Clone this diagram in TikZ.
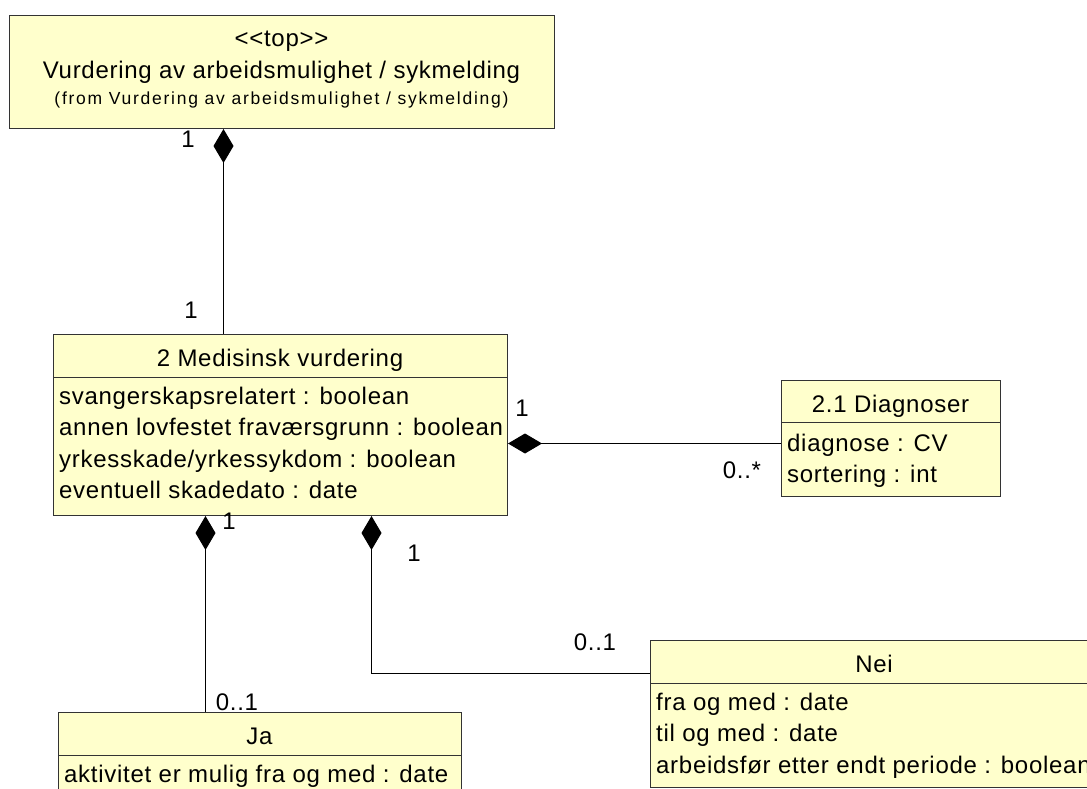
\documentclass[tikz,border=0pt]{standalone}
\usepackage{fontspec}
\usetikzlibrary{arrows.meta}
\newfontfamily\umlfont{Liberation Sans}[LetterSpace=3]
\newfontfamily\umlfromfont{Liberation Sans}[LetterSpace=10]
\definecolor{classfill}{HTML}{FFFFCC}
\definecolor{classline}{HTML}{333333}
\tikzstyle{umlclass}=[draw=classline,fill=classfill,line width=1pt,anchor=north west,inner sep=0pt]
\tikzstyle{lbl}=    [inner sep=0pt,anchor=base,font=\umlfont\fontsize{24}{28}\selectfont]
\tikzstyle{attr}=   [lbl,anchor=base west]
\tikzstyle{comp}=   [{Diamond[length=34pt,width=20pt]}-,line width=1pt,color=black]
\begin{document}
\begin{tikzpicture}[x=1pt,y=-1pt]
 \useasboundingbox (0,0) rectangle (1087,789);
 \fill[white] (0,0) rectangle (1087,789);

 \def\head{43pt}

 \node[umlclass,minimum width=545pt,minimum height=113pt] (top) at (9,15) {};
 \node[umlclass,minimum width=454pt,minimum height=181pt] (med) at (53,334) {};
 \node[umlclass,minimum width=219pt,minimum height=116pt] (diag) at (781,380) {};
 \node[umlclass,minimum width=403pt,minimum height=90pt] (ja) at (58,712) {};
 \node[umlclass,minimum width=448pt,minimum height=147pt] (nei) at (650,640) {};

 \foreach \c in {med,ja,nei}
 {
  \draw[classline,line width=1pt] ([yshift=-\head]\c.north west) -- ([yshift=-\head]\c.north east);
 }
 \draw[classline,line width=1pt] ([yshift=-42pt]diag.north west) -- ([yshift=-42pt]diag.north east);

 \node[lbl] (topstereo) at (281.5,47) {<{}<top>{}>};
 \node[lbl] (topname) at (281.5,79) {Vurdering av arbeidsmulighet / sykmelding};
 \node[lbl,font=\umlfromfont\fontsize{17.5}{20}\selectfont] (topfrom) at (281.5,105) {(from Vurdering av arbeidsmulighet / sykmelding)};

 \node[lbl] (medname) at (280,366) {2 Medisinsk vurdering};
 \foreach \t [count=\i] in {svangerskapsrelatert : boolean,annen lovfestet fraværsgrunn : boolean,yrkesskade/yrkessykdom : boolean,eventuell skadedato : date}
 {
  \node[attr] (medattr\i) at (59,372.5+31.5*\i) {\t};
 }

 \node[lbl] (diagname) at (890.5,412) {2.1 Diagnoser};
 \foreach \t [count=\i] in {diagnose : CV,sortering : int}
 {
  \node[attr] (diagattr\i) at (787,420+31*\i) {\t};
 }

 \node[lbl] (janame) at (259.5,744) {Ja};
 \node[attr] (jaattr1) at (64,782) {aktivitet er mulig fra og med : date};

 \node[lbl] (neiname) at (874,672) {Nei};
 \foreach \t [count=\i] in {fra og med : date,til og med : date,arbeidsfør etter endt periode : boolean}
 {
  \node[attr] (neiattr\i) at (656,678.5+31.5*\i) {\t};
 }

 \draw[comp] ([xshift=-58.5pt]top.south) -- ([xshift=-58.5pt]top.south |- med.north);
 \draw[comp] ([yshift=-5pt]diag.west -| med.east) -- ([yshift=-5pt]diag.west);
 \draw[comp] ([xshift=-54.5pt]ja.north |- med.south) -- ([xshift=-54.5pt]ja.north);
 \draw[comp] ([xshift=91pt]med.south) |- ([yshift=41pt]nei.west);

 \node[lbl] (multTop) at (188,147) {1};
 \node[lbl] (multMedTop) at (191,318) {1};
 \node[lbl] (multMedDiag) at (522,416) {1};
 \node[lbl] (multDiag) at (742,478) {0..*};
 \node[lbl] (multMedJa) at (229,529) {1};
 \node[lbl] (multMedNei) at (414,561) {1};
 \node[lbl] (multJa) at (237,710) {0..1};
 \node[lbl] (multNei) at (595,650) {0..1};
\end{tikzpicture}
\end{document}
